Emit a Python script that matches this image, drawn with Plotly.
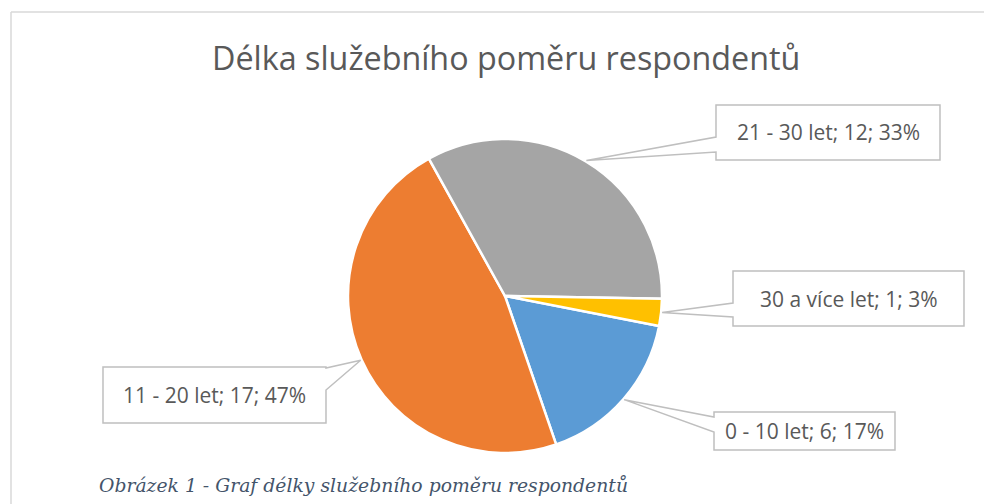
import math
import plotly.graph_objects as go

# ---- data ----
categories = ["0 - 10 let", "11 - 20 let", "21 - 30 let", "30 a více let"]
values = [6, 17, 12, 1]
percents = ["17%", "47%", "33%", "3%"]
colors = ["#5B9BD5", "#ED7D31", "#A5A5A5", "#FFC000"]
title_text = "Délka služebního poměru respondentů"
caption_text = "Obrázek 1 - Graf délky služebního poměru respondentů"

# ---- layout constants (pixels) ----
W, H = 984, 504
CX, CY, R = 505, 296, 157
ROTATION = 101
# label boxes: (x0, y0, x1, y1, side, base_a, base_b)
boxes = [
    (714, 412, 895, 450, "left", 417, 432),
    (103, 367, 326, 423, "right", 368, 390),
    (716, 105, 940, 160, "left", 137, 152),
    (733, 271, 964, 326, "left", 303, 317),
]

def px(x):
    return x / W

def py(y):
    return 1 - y / H

fig = go.Figure()
fig.add_trace(go.Pie(
    labels=categories, values=values, sort=False, direction="clockwise",
    rotation=ROTATION, marker=dict(colors=colors, line=dict(color="white", width=2.5)),
    textinfo="none", hoverinfo="skip", showlegend=False,
    domain=dict(x=[px(CX - R), px(CX + R)], y=[py(CY + R), py(CY - R)]),
))

shapes = []
annotations = []
# chart border (top and left)
shapes.append(dict(type="line", xref="paper", yref="paper", x0=px(11), x1=1, y0=py(12), y1=py(12),
                   line=dict(color="#D9D9D9", width=1.5)))
shapes.append(dict(type="line", xref="paper", yref="paper", x0=px(11), x1=px(11), y0=py(12), y1=0,
                   line=dict(color="#D9D9D9", width=1.5)))

total = sum(values)
start = ROTATION
for i, v in enumerate(values):
    span = v / total * 360
    mid = math.radians(start + span / 2)
    start += span
    tx = CX + (R + 1) * math.sin(mid)
    ty = CY - (R + 1) * math.cos(mid)
    x0, y0, x1, y1, side, ba, bb = boxes[i]
    if side == "left":
        pts = [(x0, y0), (x1, y0), (x1, y1), (x0, y1), (x0, bb), (tx, ty), (x0, ba)]
    else:
        pts = [(x1, y1), (x0, y1), (x0, y0), (x1, y0), (x1, ba), (tx, ty), (x1, bb)]
    path = "M " + " L ".join(f"{px(a):.5f},{py(b):.5f}" for a, b in pts) + " Z"
    shapes.append(dict(type="path", xref="paper", yref="paper", path=path,
                       fillcolor="white", line=dict(color="#BFBFBF", width=1.5)))
    annotations.append(dict(
        x=px((x0 + x1) / 2), y=py((y0 + y1) / 2), xref="paper", yref="paper",
        text=f"{categories[i]}; {v}; {percents[i]}", showarrow=False,
        font=dict(family="Open Sans", size=21, color="#595959"),
        xanchor="center", yanchor="middle"))

annotations.append(dict(x=px(506), y=py(57), xref="paper", yref="paper", text=title_text,
                        showarrow=False, xanchor="center", yanchor="middle",
                        font=dict(family="Open Sans", size=32.3, color="#595959")))
annotations.append(dict(x=px(97), y=py(485), xref="paper", yref="paper",
                        text=f"<i>{caption_text}</i>", showarrow=False,
                        xanchor="left", yanchor="middle",
                        font=dict(family="DejaVu Serif", size=18.8, color="#44546A")))

fig.update_layout(width=W, height=H, margin=dict(l=0, r=0, t=0, b=0),
                  paper_bgcolor="white", plot_bgcolor="white",
                  shapes=shapes, annotations=annotations)
fig.write_html("out.html", config={"displayModeBar": False},
               post_script="document.body.style.margin='0';document.body.style.overflow='hidden';")
